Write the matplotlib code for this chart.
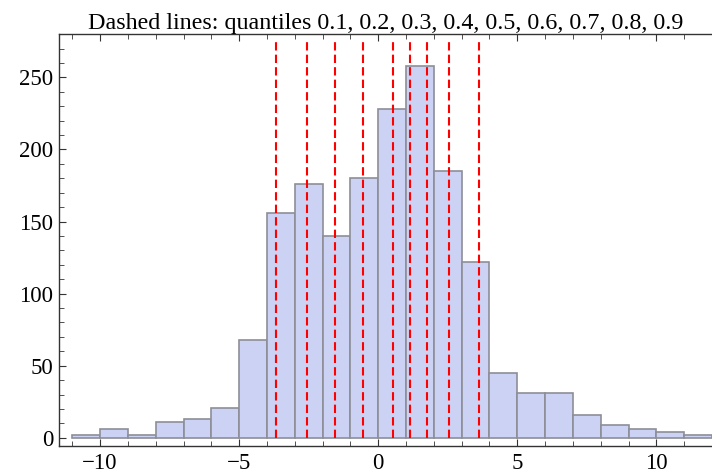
import numpy as np
import matplotlib.pyplot as plt
from matplotlib.ticker import MultipleLocator

# histogram bins (width 1) and counts
bin_edges = list(range(-11, 13))
counts = [2, 6, 2, 11, 13, 21, 68, 156, 176, 140, 180, 228, 258, 185, 122,
          45, 31, 31, 16, 9, 6, 4, 2]
quantile_levels = [0.1, 0.2, 0.3, 0.4, 0.5, 0.6, 0.7, 0.8, 0.9]
quantile_values = [-3.66, -2.56, -1.56, -0.55, 0.54, 1.14, 1.74, 2.53, 3.64]

plt.rcParams['font.family'] = ['Liberation Serif', 'DejaVu Serif']

fig = plt.figure(figsize=(7.12, 4.74), dpi=100)
ax = fig.add_axes([0.0824, 0.059, 0.9176, 0.869])

ax.bar(bin_edges[:-1], counts, width=1, align='edge',
       color='#cbd2f4', edgecolor='#8e8e98', linewidth=1.2, zorder=2)

for q in quantile_values:
    ax.plot([q, q], [0, 276], color='#ff0000', linewidth=1.5,
            dashes=(4, 2), zorder=3)

ax.set_xlim(-11.49, 12)
ax.set_ylim(-5.7, 280)

ax.xaxis.set_major_locator(MultipleLocator(5))
ax.xaxis.set_minor_locator(MultipleLocator(1))
ax.yaxis.set_major_locator(MultipleLocator(50))
ax.yaxis.set_minor_locator(MultipleLocator(10))

ax.tick_params(which='both', direction='in', top=True, right=False,
               colors='#333333', labelcolor='black', labelsize=16.5)
ax.tick_params(which='major', length=5, width=0.8)
ax.tick_params(which='minor', length=3.5, width=0.6)
ax.tick_params(axis='x', pad=5)
ax.tick_params(axis='y', pad=4)

for side in ['left', 'bottom', 'top']:
    ax.spines[side].set_color('#333333')
    ax.spines[side].set_linewidth(1.0)
ax.spines['right'].set_visible(False)

title = 'Dashed lines: quantiles ' + ', '.join(str(v) for v in quantile_levels)
ax.set_title(title, fontsize=17.3, pad=4)

fig.savefig('out.png', dpi=100)
